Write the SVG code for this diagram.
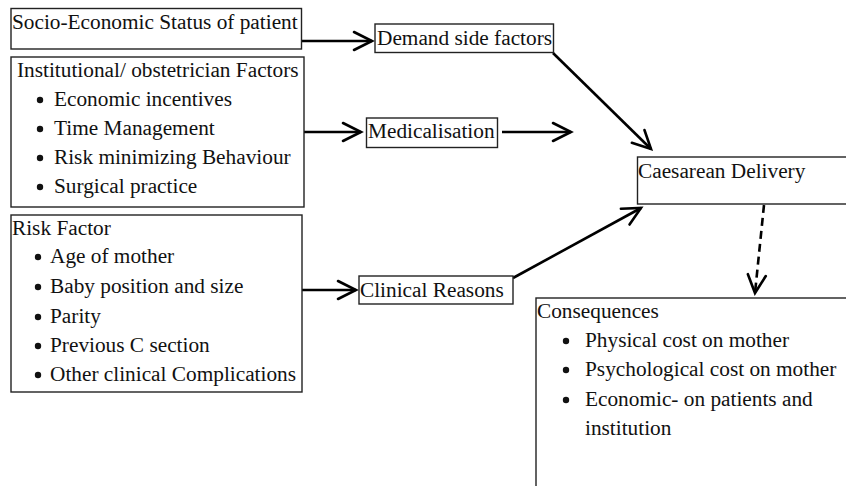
<svg xmlns="http://www.w3.org/2000/svg" width="846" height="486" viewBox="0 0 846 486">
<style>
  .box { fill: #fff; stroke: #222; stroke-width: 1.4; }
  .t { font-family: "Liberation Serif", "Times New Roman", serif; font-size: 21.3px; fill: #111; }
  .bul { fill: #111; }
  .conn { stroke: #000; stroke-width: 2.6; fill: none; }
  .dash { stroke-dasharray: 8 5; }
</style>
<defs>
  <marker id="arr" markerUnits="userSpaceOnUse" markerWidth="22" markerHeight="22" viewBox="0 0 22 22" refX="19" refY="11" orient="auto" overflow="visible">
    <path d="M1,2 L19,11 L1,20" fill="none" stroke="#000" stroke-width="2.6" stroke-linecap="round" stroke-linejoin="miter"/>
  </marker>
</defs>

<g id="connectors">
  <line class="conn" x1="302" y1="41" x2="372" y2="41" marker-end="url(#arr)"/>
  <line class="conn" x1="304" y1="132" x2="361" y2="132" marker-end="url(#arr)"/>
  <line class="conn" x1="502" y1="132" x2="571" y2="132" marker-end="url(#arr)"/>
  <line class="conn" x1="553" y1="53" x2="651" y2="149" marker-end="url(#arr)"/>
  <line class="conn" x1="302" y1="290" x2="356" y2="290" marker-end="url(#arr)"/>
  <line class="conn" x1="513" y1="278" x2="641" y2="208" marker-end="url(#arr)"/>
  <line class="conn dash" x1="764" y1="205" x2="755" y2="293" marker-end="url(#arr)"/>
</g>

<g id="socio">
  <rect class="box" x="11" y="8.5" width="290.5" height="40.5"/>
  <text class="t" x="12" y="29">Socio-Economic Status of patient</text>
</g>

<g id="demand">
  <rect class="box" x="375" y="24" width="178.5" height="28.5"/>
  <text class="t" x="377" y="45">Demand side factors</text>
</g>

<g id="institutional">
  <rect class="box" x="11" y="57" width="293" height="150"/>
  <text class="t" x="17" y="77">Institutional/ obstetrician Factors</text>
  <circle class="bul" cx="40" cy="100" r="3.2"/>
  <text class="t" x="54" y="106">Economic incentives</text>
  <circle class="bul" cx="40" cy="129" r="3.2"/>
  <text class="t" x="54" y="135">Time Management</text>
  <circle class="bul" cx="40" cy="158" r="3.2"/>
  <text class="t" x="54" y="164">Risk minimizing Behaviour</text>
  <circle class="bul" cx="40" cy="187" r="3.2"/>
  <text class="t" x="54" y="193">Surgical practice</text>
</g>

<g id="medicalisation">
  <rect class="box" x="366.5" y="118" width="131" height="29.5"/>
  <text class="t" x="368" y="138">Medicalisation</text>
</g>

<g id="caesarean">
  <rect class="box" x="637.5" y="157" width="220" height="47"/>
  <text class="t" x="638" y="178">Caesarean Delivery</text>
</g>

<g id="risk">
  <rect class="box" x="11" y="215" width="291" height="177"/>
  <text class="t" x="12" y="235">Risk Factor</text>
  <circle class="bul" cx="38" cy="257" r="3.2"/>
  <text class="t" x="50" y="263">Age of mother</text>
  <circle class="bul" cx="38" cy="287" r="3.2"/>
  <text class="t" x="50" y="293">Baby position and size</text>
  <circle class="bul" cx="38" cy="317" r="3.2"/>
  <text class="t" x="50" y="323">Parity</text>
  <circle class="bul" cx="38" cy="346" r="3.2"/>
  <text class="t" x="50" y="352">Previous C section</text>
  <circle class="bul" cx="38" cy="375" r="3.2"/>
  <text class="t" x="50" y="381">Other clinical Complications</text>
</g>

<g id="clinical">
  <rect class="box" x="359" y="276" width="154" height="28"/>
  <text class="t" x="360" y="297">Clinical Reasons</text>
</g>

<g id="consequences">
  <rect class="box" x="536" y="298" width="330" height="210"/>
  <text class="t" x="537" y="318">Consequences</text>
  <circle class="bul" cx="566" cy="341" r="3.2"/>
  <text class="t" x="585" y="347">Physical cost on mother</text>
  <circle class="bul" cx="566" cy="370" r="3.2"/>
  <text class="t" x="585" y="376">Psychological cost on mother</text>
  <circle class="bul" cx="566" cy="400" r="3.2"/>
  <text class="t" x="585" y="406">Economic- on patients and</text>
  <text class="t" x="585" y="435">institution</text>
</g>
</svg>
